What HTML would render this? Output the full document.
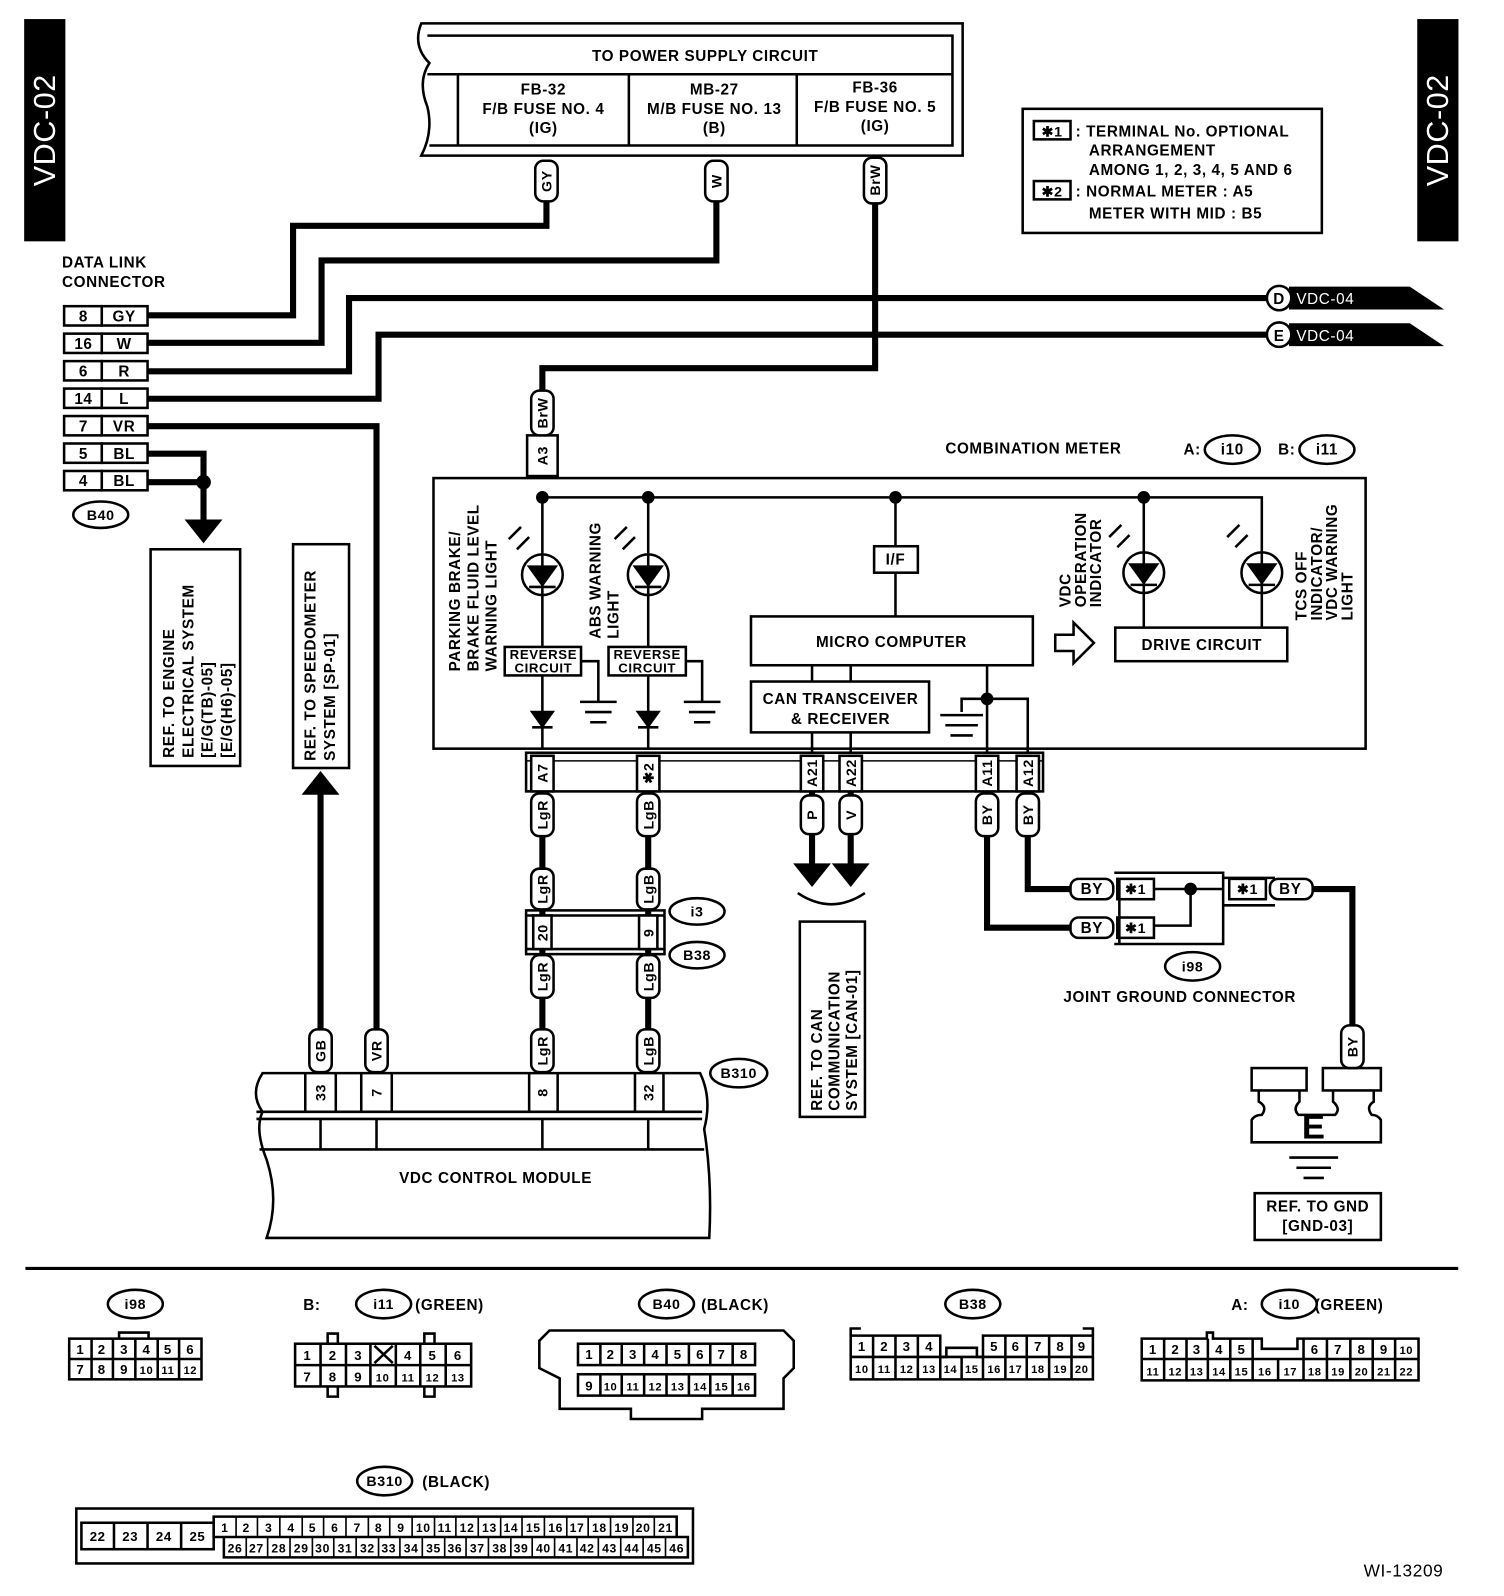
<!DOCTYPE html>
<html><head><meta charset="utf-8"><style>
html,body{margin:0;padding:0;background:#fff}
svg{display:block}
text{font-family:"Liberation Sans",sans-serif;font-weight:bold;fill:#000;letter-spacing:0.6px}
</style></head><body>
<svg width="1504" height="1596" viewBox="0 0 1478 1569" preserveAspectRatio="none" xmlns="http://www.w3.org/2000/svg">
<g fill="none" stroke="#000" stroke-width="2.5">

<rect x="25" y="20" width="38" height="216" fill="#000"/>
<rect x="1394" y="20" width="38" height="216" fill="#000"/>

<path d="M414,23 H946 V153 H414 Q426,130 420,105 Q410,80 422,62 Q405,45 414,23 Z"/>
<path d="M420,35 H936 V143 H422"/>
<line x1="420" y1="73" x2="936" y2="73"/>
<line x1="450" y1="73" x2="450" y2="143"/>
<line x1="618" y1="73" x2="618" y2="143"/>
<line x1="783" y1="73" x2="783" y2="143"/>

<rect x="1005" y="107" width="294" height="122"/>
<rect x="1016" y="119" width="36" height="18"/>
<rect x="1016" y="178" width="36" height="18"/>

<g stroke-width="6">
<path d="M537,197 V222 H288 V310 H145"/>
<path d="M704,197 V256 H316 V337 H145"/>
<path d="M145,365 H343 V293 H1245"/>
<path d="M145,392 H372 V329 H1245"/>
<path d="M145,419 H370 V1012"/>
<path d="M860,197 V362 H533 V384"/>
<path d="M145,446 H200 V474 M145,474 H200 V512"/>
<path d="M315,1012 V780"/>
<path d="M533,778 V1045 M637,778 V1045"/>
<path d="M798,778 V850 M836,778 V850"/>
<path d="M970,778 V912 H1052 M1010,778 V874 H1052"/>
<path d="M1290,874 H1329 V1010"/>
</g>
<circle cx="200" cy="474" r="6" fill="#000"/>
<path d="M184,512 H216 L200,532 Z" fill="#000"/>
<path d="M299,780 H331 L315,760 Z" fill="#000"/>
<path d="M782,850 H814 L798,870 Z M820,850 H852 L836,870 Z" fill="#000"/>
<path d="M784,878 Q817,900 850,878"/>

<path d="M1268,283 H1385 L1415,303 H1268 Z" fill="#000"/>
<path d="M1268,319 H1385 L1415,339 H1268 Z" fill="#000"/>
<circle cx="1257" cy="293" r="12" fill="#fff"/>
<circle cx="1257" cy="329" r="12" fill="#fff"/>

<g>
<rect x="63" y="301" width="37" height="19"/><rect x="100" y="301" width="45" height="19"/>
<rect x="63" y="328" width="37" height="19"/><rect x="100" y="328" width="45" height="19"/>
<rect x="63" y="355" width="37" height="19"/><rect x="100" y="355" width="45" height="19"/>
<rect x="63" y="382" width="37" height="19"/><rect x="100" y="382" width="45" height="19"/>
<rect x="63" y="409" width="37" height="19"/><rect x="100" y="409" width="45" height="19"/>
<rect x="63" y="436" width="37" height="19"/><rect x="100" y="436" width="45" height="19"/>
<rect x="63" y="463" width="37" height="19"/><rect x="100" y="463" width="45" height="19"/>
</g>
<ellipse cx="99" cy="506" rx="27" ry="13"/>

<rect x="148" y="540" width="88" height="213"/>
<rect x="288" y="535" width="55" height="220"/>
<rect x="786" y="906" width="64" height="192"/>
<rect x="1233" y="1173" width="124" height="46"/>

<rect x="426" y="470" width="916" height="266"/>
<ellipse cx="1211" cy="442" rx="27" ry="14"/>
<ellipse cx="1304" cy="442" rx="27" ry="14"/>
<rect x="518" y="428" width="30" height="40"/>
<path d="M533,489 H1240 V618"/>
<circle cx="533" cy="489" r="5" fill="#000"/><circle cx="637" cy="489" r="5" fill="#000"/>
<circle cx="880" cy="489" r="5" fill="#000"/><circle cx="1124" cy="489" r="5" fill="#000"/>
<path d="M533,489 V636 M533,664 V736"/>
<path d="M637,489 V636 M637,664 V736"/>
<path d="M880,489 V537 M880,563 V606"/>
<path d="M1124,489 V617"/>
<circle cx="533" cy="565" r="20"/><path d="M520,557 H546 L533,575 Z" fill="#000"/><line x1="520" y1="577" x2="546" y2="577"/>
<circle cx="637" cy="565" r="20"/><path d="M624,557 H650 L637,575 Z" fill="#000"/><line x1="624" y1="577" x2="650" y2="577"/>
<circle cx="1124" cy="563" r="20"/><path d="M1111,555 H1137 L1124,573 Z" fill="#000"/><line x1="1111" y1="575" x2="1137" y2="575"/>
<circle cx="1240" cy="563" r="20"/><path d="M1227,555 H1253 L1240,573 Z" fill="#000"/><line x1="1227" y1="575" x2="1253" y2="575"/>
<path d="M508,540 L520,528 M500,530 L512,518 M612,540 L624,528 M604,530 L616,518 M1098,538 L1110,526 M1090,528 L1102,516 M1214,538 L1226,526 M1206,528 L1218,516"/>
<rect x="496" y="636" width="75" height="28" fill="#fff"/>
<rect x="598" y="636" width="76" height="28" fill="#fff"/>
<path d="M571,650 H588 V690 M674,650 H690 V690"/>
<path d="M570,690 H606 M575,700 H601 M580,710 H596 M672,690 H708 M677,700 H703 M682,710 H698"/>
<path d="M523,700 H543 L533,714 Z M627,700 H647 L637,714 Z" fill="#000"/>
<path d="M523,715 H543 M627,715 H647"/>
<rect x="859" y="537" width="43" height="26"/>
<rect x="738" y="606" width="277" height="48"/>
<rect x="738" y="670" width="175" height="50"/>
<rect x="1096" y="617" width="169" height="33"/>
<path d="M1037,624 H1055 V612 L1075,632 L1055,652 V640 H1037 Z"/>
<path d="M798,654 V670 M836,654 V670 M798,720 V740 M836,720 V740"/>
<path d="M970,654 V740 M970,687 H1010 V740 M970,687 H945 V700"/>
<circle cx="970" cy="687" r="5" fill="#000"/>
<path d="M924,703 H966 M929,713 H961 M934,723 H956"/>
<rect x="517" y="740" width="508" height="38"/>
<line x1="517" y1="748" x2="1025" y2="748" stroke-width="1.5"/>
<rect x="522" y="743" width="22" height="35" fill="#fff"/>
<rect x="626" y="743" width="22" height="35" fill="#fff"/>
<rect x="787" y="743" width="22" height="35" fill="#fff"/>
<rect x="825" y="743" width="22" height="35" fill="#fff"/>
<rect x="959" y="743" width="22" height="35" fill="#fff"/>
<rect x="999" y="743" width="22" height="35" fill="#fff"/>

<rect x="517" y="895" width="136" height="43"/>
<line x1="517" y1="900" x2="653" y2="900"/><line x1="517" y1="933" x2="653" y2="933"/>
<rect x="524" y="900" width="18" height="33" fill="#fff"/><rect x="628" y="900" width="18" height="33" fill="#fff"/>
<ellipse cx="685" cy="896" rx="27" ry="13"/>
<ellipse cx="685" cy="939" rx="27" ry="13"/>

<path d="M1095,858 H1202 V895 M1095,928 H1202 V895 M1100,863 V928 M1202,863 H1253 M1202,890 H1253"/>
<rect x="1098" y="864" width="36" height="20"/>
<rect x="1098" y="902" width="36" height="20"/>
<rect x="1208" y="864" width="36" height="20"/>
<path d="M1134,874 H1160 M1134,910 H1170 V874 M1160,874 H1202"/>
<circle cx="1170" cy="874" r="5" fill="#000"/>
<ellipse cx="1172" cy="950" rx="27" ry="14"/>
<rect x="1230" y="1050" width="54" height="22"/>
<rect x="1300" y="1050" width="57" height="22"/>
<path d="M1237,1072 V1083 Q1246,1088 1240,1096 Q1233,1096 1230,1101 V1123 H1357 V1101 Q1354,1096 1348,1096 Q1342,1088 1350,1083 V1072 M1277,1072 V1083 Q1270,1090 1276,1096 H1312 Q1318,1090 1310,1083 V1072"/>
<path d="M1267,1138 H1315 M1274,1148 H1308 M1281,1158 H1301"/>

<path d="M258,1055 H688 Q700,1080 692,1110 Q700,1160 697,1217 H262 Q275,1180 262,1140 Q250,1110 258,1093 Q245,1075 258,1055 Z"/>
<path d="M252,1093 H690 M252,1100 H690 M300,1055 V1093 M330,1055 V1093 M355,1055 V1093 M385,1055 V1093 M520,1055 V1093 M548,1055 V1093 M624,1055 V1093 M652,1055 V1093 M315,1100 V1130 M370,1100 V1130 M533,1100 V1130 M637,1100 V1130 M255,1130 H692"/>
<ellipse cx="726" cy="1055" rx="28" ry="14"/>

<g fill="#fff">
<rect x="526" y="158" width="22" height="40" rx="8"/>
<rect x="693" y="158" width="22" height="40" rx="8"/>
<rect x="849" y="155" width="22" height="45" rx="8"/>
<rect x="522" y="384" width="22" height="44" rx="8"/>
<rect x="522" y="780" width="22" height="42" rx="8"/>
<rect x="626" y="780" width="22" height="42" rx="8"/>
<rect x="787" y="782" width="22" height="38" rx="8"/>
<rect x="825" y="782" width="22" height="38" rx="8"/>
<rect x="959" y="780" width="22" height="42" rx="8"/>
<rect x="999" y="780" width="22" height="42" rx="8"/>
<rect x="522" y="854" width="22" height="40" rx="8"/>
<rect x="626" y="854" width="22" height="40" rx="8"/>
<rect x="522" y="939" width="22" height="42" rx="8"/>
<rect x="626" y="939" width="22" height="42" rx="8"/>
<rect x="522" y="1012" width="22" height="42" rx="8"/>
<rect x="626" y="1012" width="22" height="42" rx="8"/>
<rect x="304" y="1012" width="22" height="42" rx="8"/>
<rect x="359" y="1012" width="22" height="42" rx="8"/>
<rect x="1318" y="1008" width="22" height="42" rx="8"/>
<rect x="1052" y="864" width="42" height="20" rx="8"/>
<rect x="1052" y="902" width="42" height="20" rx="8"/>
<rect x="1248" y="864" width="42" height="20" rx="8"/>
</g>

<line x1="25" y1="1247" x2="1433" y2="1247" stroke-width="3"/>

<ellipse cx="133" cy="1282" rx="27" ry="14"/>
<path d="M117,1316 V1310 H146 V1316"/>
<rect x="68" y="1316" width="130" height="40"/>
<path d="M68,1336 H198 M90,1316 V1356 M111,1316 V1356 M133,1316 V1356 M155,1316 V1356 M176,1316 V1356"/>

<ellipse cx="377" cy="1282" rx="27" ry="14"/>
<rect x="290" y="1321" width="173" height="42"/>
<path d="M322,1321 V1311 H332 V1321 M417,1321 V1311 H427 V1321 M322,1363 V1373 H332 V1363 M417,1363 V1373 H427 V1363"/>
<path d="M290,1342 H463 M315,1321 V1363 M340,1321 V1363 M364,1321 V1363 M389,1321 V1363 M413,1321 V1363 M438,1321 V1363 M368,1323 L386,1340 M386,1323 L368,1340"/>

<ellipse cx="655" cy="1282" rx="27" ry="14"/>
<path d="M540,1308 H770 L780,1318 V1345 L770,1355 V1385 H690 V1395 H620 V1385 H550 V1355 L530,1345 V1318 Z"/>
<rect x="568" y="1321" width="174" height="21"/>
<rect x="568" y="1351" width="174" height="21"/>
<path d="M590,1321 V1342 M611,1321 V1342 M633,1321 V1342 M655,1321 V1342 M677,1321 V1342 M698,1321 V1342 M720,1321 V1342 M590,1351 V1372 M611,1351 V1372 M633,1351 V1372 M655,1351 V1372 M677,1351 V1372 M698,1351 V1372 M720,1351 V1372"/>

<ellipse cx="956" cy="1282" rx="27" ry="14"/>
<path d="M836,1313 V1306 H846 M1064,1306 H1074 V1313"/>
<path d="M836,1313 H924 V1334 H930 V1325 H960 V1334 H966 V1313 H1074 V1356 H836 Z"/>
<path d="M836,1334 H1074 M858,1313 V1356 M880,1313 V1356 M902,1313 V1334 M902,1334 V1356 M924,1334 V1356 M945,1334 V1356 M966,1334 V1356 M988,1313 V1356 M1009,1313 V1356 M1031,1313 V1356 M1053,1313 V1356"/>

<ellipse cx="1267" cy="1282" rx="27" ry="14"/>
<path d="M1122,1316 H1186 V1310 H1192 V1316 H1240 V1326 H1275 V1316 H1394 V1357 H1122 Z"/>
<path d="M1122,1336 H1394 M1144,1316 V1357 M1166,1316 V1357 M1187,1316 V1357 M1209,1316 V1357 M1231,1316 V1357 M1256,1336 V1357 M1281,1316 V1357 M1304,1316 V1357 M1327,1316 V1357 M1349,1316 V1357 M1371,1316 V1357"/>

<ellipse cx="378" cy="1456" rx="27" ry="14"/>
<rect x="75" y="1483" width="606" height="54"/>
<rect x="80" y="1497" width="130" height="26"/>
<path d="M112,1497 V1523 M145,1497 V1523 M178,1497 V1523"/>
<path d="M210,1491 H665 V1511 H676 V1531 H220 V1511 H210 Z M210,1511 H665"/>
</g>

<g stroke="#000" stroke-width="1.6">
<path d="M232,1491V1511M253,1491V1511M275,1491V1511M297,1491V1511M318,1491V1511M340,1491V1511M362,1491V1511M383,1491V1511M405,1491V1511M427,1491V1511M448,1491V1511M470,1491V1511M492,1491V1511M513,1491V1511M535,1491V1511M557,1491V1511M578,1491V1511M600,1491V1511M622,1491V1511M643,1491V1511"/>
<path d="M242,1511V1531M263,1511V1531M285,1511V1531M307,1511V1531M328,1511V1531M350,1511V1531M372,1511V1531M393,1511V1531M415,1511V1531M437,1511V1531M458,1511V1531M480,1511V1531M502,1511V1531M523,1511V1531M545,1511V1531M567,1511V1531M588,1511V1531M610,1511V1531M632,1511V1531M654,1511V1531"/>
</g>

<g font-size="15" text-anchor="middle">
<text transform="translate(54,128) rotate(-90)" font-size="30" style="fill:#fff;font-weight:normal">VDC-02</text>
<text transform="translate(1423,128) rotate(-90)" font-size="30" style="fill:#fff;font-weight:normal">VDC-02</text>
<text x="693" y="60">TO POWER SUPPLY CIRCUIT</text>
<text x="534" y="93">FB-32</text><text x="534" y="112">F/B FUSE NO. 4</text><text x="534" y="131">(IG)</text>
<text x="702" y="93">MB-27</text><text x="702" y="112">M/B FUSE NO. 13</text><text x="702" y="131">(B)</text>
<text x="860" y="91">FB-36</text><text x="860" y="110">F/B FUSE NO. 5</text><text x="860" y="129">(IG)</text>
<text x="1034" y="134" font-size="14">✱1</text><text x="1034" y="193" font-size="14">✱2</text>
</g>
<g font-size="15">
<text x="1057" y="134">: TERMINAL No. OPTIONAL</text>
<text x="1070" y="153">ARRANGEMENT</text>
<text x="1070" y="172">AMONG 1, 2, 3, 4, 5 AND 6</text>
<text x="1057" y="193">: NORMAL METER  : A5</text>
<text x="1070" y="215">METER WITH MID : B5</text>
<text x="61" y="263">DATA LINK</text>
<text x="61" y="282">CONNECTOR</text>
<text x="929" y="446">COMBINATION METER</text>
<text x="1163" y="447">A:</text>
<text x="1256" y="447">B:</text>
<text x="1274" y="299" style="fill:#fff;font-weight:normal">VDC-04</text>
<text x="1274" y="335" style="fill:#fff;font-weight:normal">VDC-04</text>
<text x="1045" y="985">JOINT GROUND CONNECTOR</text>
<text x="1340" y="1550" font-size="17" style="font-weight:normal">WI-13209</text>
<text x="298" y="1288">B:</text><text x="408" y="1288">(GREEN)</text>
<text x="689" y="1288">(BLACK)</text>
<text x="1210" y="1288">A:</text><text x="1292" y="1288">(GREEN)</text>
<text x="415" y="1462">(BLACK)</text>
</g>
<g font-size="15" text-anchor="middle">
<text x="1257" y="299">D</text><text x="1257" y="335">E</text>
<text x="82" y="316">8</text><text x="122" y="316">GY</text>
<text x="82" y="343">16</text><text x="122" y="343">W</text>
<text x="82" y="370">6</text><text x="122" y="370">R</text>
<text x="82" y="397">14</text><text x="122" y="397">L</text>
<text x="82" y="424">7</text><text x="122" y="424">VR</text>
<text x="82" y="451">5</text><text x="122" y="451">BL</text>
<text x="82" y="478">4</text><text x="122" y="478">BL</text>
<text x="99" y="511" font-size="14">B40</text>
<text x="1211" y="447">i10</text><text x="1304" y="447">i11</text>
<text x="534" y="648" font-size="13">REVERSE</text>
<text x="534" y="661" font-size="13">CIRCUIT</text>
<text x="636" y="648" font-size="13">REVERSE</text>
<text x="636" y="661" font-size="13">CIRCUIT</text>
<text x="880" y="555">I/F</text>
<text x="876" y="636">MICRO COMPUTER</text>
<text x="826" y="692">CAN TRANSCEIVER</text>
<text x="826" y="712">&amp; RECEIVER</text>
<text x="1181" y="639">DRIVE CIRCUIT</text>
<text x="685" y="901" font-size="14">i3</text>
<text x="685" y="944" font-size="14">B38</text>
<text x="1073" y="879">BY</text><text x="1073" y="917">BY</text><text x="1268" y="879">BY</text>
<text x="1116" y="879" font-size="14">✱1</text><text x="1116" y="917" font-size="14">✱1</text><text x="1226" y="879" font-size="14">✱1</text>
<text x="1172" y="955" font-size="14">i98</text>
<text x="1291" y="1119" font-size="34">E</text>
<text x="1295" y="1191">REF. TO GND</text>
<text x="1295" y="1210">[GND-03]</text>
<text x="487" y="1163">VDC CONTROL MODULE</text>
<text x="726" y="1060" font-size="14">B310</text>
<text x="133" y="1287" font-size="14">i98</text>
<text x="377" y="1287" font-size="14">i11</text>
<text x="655" y="1287" font-size="14">B40</text>
<text x="956" y="1287" font-size="14">B38</text>
<text x="1267" y="1287" font-size="14">i10</text>
<text x="378" y="1461" font-size="14">B310</text>
</g>
<g font-size="14" text-anchor="middle">
<text transform="translate(542,178) rotate(-90)">GY</text>
<text transform="translate(709,178) rotate(-90)">W</text>
<text transform="translate(865,177) rotate(-90)">BrW</text>
<text transform="translate(538,406) rotate(-90)">BrW</text>
<text transform="translate(538,448) rotate(-90)">A3</text>
<text transform="translate(538,760) rotate(-90)">A7</text>
<text transform="translate(642,760) rotate(-90)">✱2</text>
<text transform="translate(803,760) rotate(-90)">A21</text>
<text transform="translate(841,760) rotate(-90)">A22</text>
<text transform="translate(975,760) rotate(-90)">A11</text>
<text transform="translate(1015,760) rotate(-90)">A12</text>
<text transform="translate(538,801) rotate(-90)">LgR</text>
<text transform="translate(642,801) rotate(-90)">LgB</text>
<text transform="translate(803,801) rotate(-90)">P</text>
<text transform="translate(841,801) rotate(-90)">V</text>
<text transform="translate(975,801) rotate(-90)">BY</text>
<text transform="translate(1015,801) rotate(-90)">BY</text>
<text transform="translate(538,874) rotate(-90)">LgR</text>
<text transform="translate(642,874) rotate(-90)">LgB</text>
<text transform="translate(538,917) rotate(-90)">20</text>
<text transform="translate(642,917) rotate(-90)">9</text>
<text transform="translate(538,960) rotate(-90)">LgR</text>
<text transform="translate(642,960) rotate(-90)">LgB</text>
<text transform="translate(538,1033) rotate(-90)">LgR</text>
<text transform="translate(642,1033) rotate(-90)">LgB</text>
<text transform="translate(320,1033) rotate(-90)">GB</text>
<text transform="translate(375,1033) rotate(-90)">VR</text>
<text transform="translate(1334,1029) rotate(-90)">BY</text>
<text transform="translate(320,1074) rotate(-90)">33</text>
<text transform="translate(375,1074) rotate(-90)">7</text>
<text transform="translate(538,1074) rotate(-90)">8</text>
<text transform="translate(642,1074) rotate(-90)">32</text>
</g>
<g font-size="15">
<text transform="translate(171,745) rotate(-90)">REF. TO ENGINE</text>
<text transform="translate(190,745) rotate(-90)">ELECTRICAL SYSTEM</text>
<text transform="translate(209,745) rotate(-90)">[E/G(TB)-05]</text>
<text transform="translate(228,745) rotate(-90)">[E/G(H6)-05]</text>
<text transform="translate(310,748) rotate(-90)">REF. TO SPEEDOMETER</text>
<text transform="translate(329,748) rotate(-90)">SYSTEM [SP-01]</text>
<text transform="translate(808,1092) rotate(-90)">REF. TO CAN</text>
<text transform="translate(825,1092) rotate(-90)">COMMUNICATION</text>
<text transform="translate(842,1092) rotate(-90)">SYSTEM [CAN-01]</text>
<text transform="translate(452,660) rotate(-90)">PARKING BRAKE/</text>
<text transform="translate(470,660) rotate(-90)">BRAKE FLUID LEVEL</text>
<text transform="translate(488,660) rotate(-90)">WARNING LIGHT</text>
<text transform="translate(590,628) rotate(-90)">ABS WARNING</text>
<text transform="translate(608,628) rotate(-90)">LIGHT</text>
<text transform="translate(1052,597) rotate(-90)">VDC</text>
<text transform="translate(1067,597) rotate(-90)">OPERATION</text>
<text transform="translate(1082,597) rotate(-90)">INDICATOR</text>
<text transform="translate(1284,610) rotate(-90)">TCS OFF</text>
<text transform="translate(1299,610) rotate(-90)">INDICATOR/</text>
<text transform="translate(1314,610) rotate(-90)">VDC WARNING</text>
<text transform="translate(1329,610) rotate(-90)">LIGHT</text>
</g>
<g font-size="13" text-anchor="middle" style="font-weight:normal;letter-spacing:0">
<text x="79" y="1331">1</text><text x="100" y="1331">2</text><text x="122" y="1331">3</text><text x="144" y="1331">4</text><text x="165" y="1331">5</text><text x="187" y="1331">6</text>
<text x="79" y="1351">7</text><text x="100" y="1351">8</text><text x="122" y="1351">9</text><text x="144" y="1351" font-size="11">10</text><text x="165" y="1351" font-size="11">11</text><text x="187" y="1351" font-size="11">12</text>
<text x="302" y="1337">1</text><text x="327" y="1337">2</text><text x="352" y="1337">3</text><text x="401" y="1337">4</text><text x="425" y="1337">5</text><text x="450" y="1337">6</text>
<text x="302" y="1358">7</text><text x="327" y="1358">8</text><text x="352" y="1358">9</text><text x="376" y="1358" font-size="11">10</text><text x="401" y="1358" font-size="11">11</text><text x="425" y="1358" font-size="11">12</text><text x="450" y="1358" font-size="11">13</text>
<text x="579" y="1336">1</text><text x="600" y="1336">2</text><text x="622" y="1336">3</text><text x="644" y="1336">4</text><text x="666" y="1336">5</text><text x="688" y="1336">6</text><text x="709" y="1336">7</text><text x="731" y="1336">8</text>
<text x="579" y="1367">9</text><text x="600" y="1367" font-size="11">10</text><text x="622" y="1367" font-size="11">11</text><text x="644" y="1367" font-size="11">12</text><text x="666" y="1367" font-size="11">13</text><text x="688" y="1367" font-size="11">14</text><text x="709" y="1367" font-size="11">15</text><text x="731" y="1367" font-size="11">16</text>
<text x="847" y="1328">1</text><text x="869" y="1328">2</text><text x="891" y="1328">3</text><text x="913" y="1328">4</text><text x="977" y="1328">5</text><text x="998" y="1328">6</text><text x="1020" y="1328">7</text><text x="1042" y="1328">8</text><text x="1063" y="1328">9</text>
<g font-size="11"><text x="847" y="1350">10</text><text x="869" y="1350">11</text><text x="891" y="1350">12</text><text x="913" y="1350">13</text><text x="934" y="1350">14</text><text x="955" y="1350">15</text><text x="977" y="1350">16</text><text x="998" y="1350">17</text><text x="1020" y="1350">18</text><text x="1042" y="1350">19</text><text x="1063" y="1350">20</text></g>
<text x="1133" y="1331">1</text><text x="1155" y="1331">2</text><text x="1176" y="1331">3</text><text x="1198" y="1331">4</text><text x="1220" y="1331">5</text><text x="1292" y="1331">6</text><text x="1315" y="1331">7</text><text x="1338" y="1331">8</text><text x="1360" y="1331">9</text><text x="1382" y="1331" font-size="11">10</text>
<g font-size="11"><text x="1133" y="1352">11</text><text x="1155" y="1352">12</text><text x="1176" y="1352">13</text><text x="1198" y="1352">14</text><text x="1220" y="1352">15</text><text x="1243" y="1352">16</text><text x="1268" y="1352">17</text><text x="1292" y="1352">18</text><text x="1315" y="1352">19</text><text x="1338" y="1352">20</text><text x="1360" y="1352">21</text><text x="1382" y="1352">22</text></g>
<text x="96" y="1515">22</text><text x="128" y="1515">23</text><text x="161" y="1515">24</text><text x="194" y="1515">25</text>
<g font-size="12">
<text x="221" y="1506">1</text><text x="242" y="1506">2</text><text x="264" y="1506">3</text><text x="286" y="1506">4</text><text x="307" y="1506">5</text><text x="329" y="1506">6</text><text x="351" y="1506">7</text><text x="372" y="1506">8</text><text x="394" y="1506">9</text><text x="416" y="1506">10</text><text x="437" y="1506">11</text><text x="459" y="1506">12</text><text x="481" y="1506">13</text><text x="502" y="1506">14</text><text x="524" y="1506">15</text><text x="546" y="1506">16</text><text x="567" y="1506">17</text><text x="589" y="1506">18</text><text x="611" y="1506">19</text><text x="632" y="1506">20</text><text x="654" y="1506">21</text>
<text x="231" y="1526">26</text><text x="252" y="1526">27</text><text x="274" y="1526">28</text><text x="296" y="1526">29</text><text x="317" y="1526">30</text><text x="339" y="1526">31</text><text x="361" y="1526">32</text><text x="382" y="1526">33</text><text x="404" y="1526">34</text><text x="426" y="1526">35</text><text x="447" y="1526">36</text><text x="469" y="1526">37</text><text x="491" y="1526">38</text><text x="512" y="1526">39</text><text x="534" y="1526">40</text><text x="556" y="1526">41</text><text x="577" y="1526">42</text><text x="599" y="1526">43</text><text x="621" y="1526">44</text><text x="643" y="1526">45</text><text x="665" y="1526">46</text>
</g>
</g>
</svg>
</body></html>
